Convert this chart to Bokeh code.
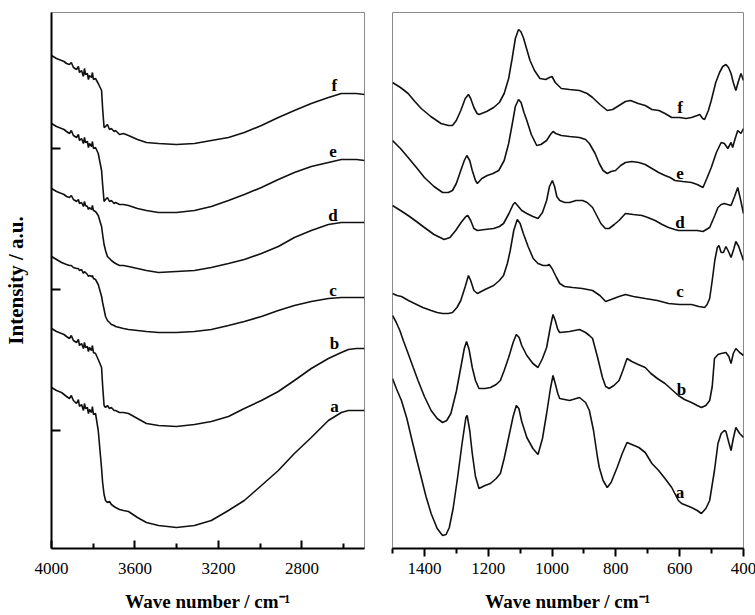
from bokeh.plotting import figure
from bokeh.models import Range1d, FixedTicker, ColumnDataSource, CustomLabelingPolicy
from bokeh.layouts import row
from bokeh.embed import file_html
from bokeh.resources import INLINE
from bokeh.core.properties import value

SERIF = "Liberation Serif"

# ---------------- left panel (4000-2500 cm-1) ----------------
left_wn = [4000, 3976, 3952, 3940, 3928, 3914, 3905, 3895, 3880, 3871, 3866, 3856, 3847,
           3842, 3837, 3828, 3823, 3818, 3808, 3804, 3799, 3789, 3776, 3760, 3755, 3748,
           3741, 3732, 3722, 3713, 3700, 3693, 3674, 3655, 3631, 3588, 3545, 3487, 3401,
           3315, 3234, 3152, 3076, 2994, 2913, 2836, 2755, 2673, 2611, 2577, 2539, 2500]

left_f = [493, 490, 488, 487, 485, 484, 486, 481, 479, 482, 476, 478, 472,
          480, 474, 475, 469, 473, 471, 476, 469, 470, 465, 458, 440, 421,
          422, 424, 419, 420, 417, 418, 414, 415, 413, 409, 406, 405, 404,
          405, 408, 411, 416, 423, 431, 438, 445, 451, 455, 455, 455, 454]
left_e = [425, 422, 420, 419, 417, 415, 418, 413, 411, 414, 408, 410, 405,
          411, 406, 407, 401, 405, 402, 407, 400, 401, 395, 378, 364, 347,
          349, 351, 347, 348, 345, 346, 344, 344, 343, 340, 338, 336, 336,
          338, 342, 348, 354, 361, 369, 376, 382, 386, 389, 389, 389, 388]
left_d = [360, 357, 355, 354, 352, 351, 353, 349, 347, 349, 345, 346, 342,
          347, 343, 342, 339, 341, 339, 343, 338, 337, 333, 322, 314, 304,
          298, 292, 290, 288, 286, 285, 283, 283, 282, 280, 278, 276, 277,
          278, 281, 285, 289, 295, 302, 311, 318, 324, 326, 326, 326, 326]
left_c = [292, 289, 286, 285, 284, 283, 283, 281, 280, 280, 278, 279, 275,
          277, 276, 274, 272, 273, 272, 273, 270, 269, 264, 252, 246, 239,
          232, 228, 226, 224, 223, 222, 221, 220, 219, 218, 217, 216, 216,
          217, 219, 223, 227, 232, 238, 243, 247, 250, 251, 251, 251, 251]
left_b = [220, 217, 215, 214, 212, 210, 213, 208, 206, 209, 203, 205, 200,
          206, 201, 202, 197, 201, 198, 203, 196, 195, 189, 181, 163, 143,
          141, 143, 140, 141, 138, 138, 136, 136, 135, 130, 125, 123, 122,
          124, 127, 132, 140, 148, 157, 168, 180, 190, 196, 199, 200, 200]
left_a = [161, 158, 156, 154, 152, 150, 153, 148, 145, 149, 142, 144, 138,
          145, 140, 141, 135, 139, 136, 142, 134, 135, 118, 80, 66, 54,
          48, 46, 47, 44, 42, 41, 39, 38, 37, 31, 26, 23, 21,
          23, 28, 38, 48, 63, 78, 95, 111, 128, 136, 138, 138, 138]

left_lbl_text = ["a", "b", "c", "d", "e", "f"]
left_lbl_wn = [2644, 2644, 2651, 2651, 2651, 2644]
left_lbl_y = [142, 205, 258, 333, 397, 463]

left_major = [4000, 3600, 3200, 2800]
left_minor = [3800, 3400, 3000, 2600]
left_yticks = [118, 259, 400]

# ---------------- right panel (1500-400 cm-1) ----------------
right_f_wn = [1500, 1475, 1451, 1430, 1410, 1380, 1348, 1325, 1312, 1300, 1286, 1272, 1262, 1255,
              1245, 1235, 1229, 1205, 1183, 1165, 1150, 1136, 1125, 1115, 1105, 1098, 1090, 1080,
              1069, 1055, 1038, 1020, 1008, 1000, 990, 971, 945, 914, 890, 873, 850, 827, 810,
              790, 770, 754, 730, 708, 687, 665, 646, 625, 600, 580, 563, 545, 537, 528, 522,
              510, 501, 487, 475, 465, 455, 447, 439, 432, 424, 416, 408, 400]
right_f = [466, 461, 455, 447, 440, 432, 425, 423, 423, 428, 438, 450, 454, 450,
           441, 435, 434, 437, 441, 446, 455, 470, 490, 510, 519, 517, 511, 500,
           488, 478, 470, 469, 471, 472, 466, 460, 459, 458, 455, 451, 444, 438, 439,
           443, 447, 448, 445, 443, 439, 438, 435, 431, 431, 430, 431, 433, 434, 430, 429,
           438, 448, 466, 476, 482, 484, 481, 475, 466, 458, 467, 475, 468]

right_e_wn = [1500, 1475, 1451, 1425, 1400, 1370, 1343, 1325, 1312, 1300, 1286, 1275, 1267, 1258,
              1250, 1240, 1234, 1220, 1203, 1185, 1167, 1150, 1136, 1125, 1115, 1105, 1097, 1088,
              1079, 1065, 1048, 1035, 1017, 1005, 997, 988, 971, 945, 914, 895, 883, 865, 852,
              840, 827, 815, 801, 785, 770, 750, 728, 708, 687, 666, 646, 630, 615, 590, 563,
              545, 527, 515, 501, 485, 470, 460, 449, 439, 434, 426, 418, 408, 400]
right_e = [408, 400, 391, 381, 371, 362, 356, 356, 358, 365, 378, 388, 393, 388,
           378, 368, 365, 370, 373, 375, 378, 388, 405, 424, 442, 449, 446, 436,
           428, 414, 403, 404, 408, 414, 417, 415, 413, 412, 411, 409, 405, 395, 385,
           378, 375, 377, 378, 383, 386, 387, 386, 384, 380, 376, 373, 371, 368, 367, 366,
           364, 361, 370, 381, 396, 406, 405, 400, 406, 401, 410, 418, 415, 420]

right_d_wn = [1500, 1475, 1451, 1425, 1400, 1370, 1338, 1320, 1302, 1285, 1270, 1264, 1255, 1245,
              1234, 1210, 1183, 1165, 1152, 1135, 1122, 1116, 1108, 1095, 1079, 1060, 1044, 1030,
              1017, 1008, 999, 992, 985, 976, 960, 945, 925, 904, 890, 873, 860, 847, 833,
              821, 805, 790, 770, 745, 718, 700, 677, 655, 635, 615, 604, 570, 545, 527,
              506, 490, 480, 470, 460, 450, 439, 428, 418, 410, 400]
right_d = [343, 338, 333, 327, 321, 314, 309, 311, 318, 326, 332, 333, 328, 320,
           318, 319, 320, 322, 325, 335, 344, 346, 343, 338, 335, 332, 330, 336,
           348, 362, 368, 362, 352, 348, 346, 346, 348, 348, 346, 341, 333, 325, 320,
           320, 324, 328, 335, 334, 333, 331, 328, 324, 321, 319, 318, 318, 318, 317,
           321, 333, 341, 344, 345, 344, 343, 352, 361, 350, 335]

right_c_wn = [1500, 1486, 1472, 1450, 1431, 1405, 1379, 1360, 1343, 1325, 1312, 1298, 1286, 1272,
              1262, 1255, 1245, 1234, 1210, 1183, 1165, 1152, 1140, 1131, 1120, 1109, 1100, 1090,
              1075, 1059, 1044, 1028, 1015, 1009, 1000, 986, 976, 961, 935, 905, 873, 850, 832,
              815, 790, 770, 745, 708, 670, 635, 600, 563, 540, 522, 514, 506, 498, 490,
              482, 477, 470, 463, 455, 447, 439, 430, 424, 415, 400]
right_c = [255, 253, 252, 248, 245, 241, 238, 236, 235, 235, 236, 241, 248, 262,
           273, 268, 258, 255, 259, 263, 268, 273, 285, 298, 318, 329, 325, 315,
           302, 290, 285, 283, 283, 284, 280, 271, 265, 262, 261, 260, 258, 253, 247,
           249, 252, 254, 252, 250, 248, 245, 244, 244, 242, 241, 244, 250, 268, 288,
           301, 303, 296, 296, 302, 297, 291, 300, 307, 302, 288]

right_b_wn = [1500, 1488, 1477, 1465, 1451, 1435, 1420, 1400, 1379, 1360, 1343, 1330, 1317, 1300,
              1286, 1275, 1268, 1260, 1250, 1240, 1229, 1210, 1193, 1175, 1162, 1150, 1136, 1122,
              1112, 1103, 1095, 1079, 1060, 1044, 1030, 1017, 1005, 997, 990, 982, 976, 945,
              914, 895, 883, 873, 858, 842, 832, 821, 806, 790, 778, 765, 750, 730, 708,
              690, 670, 646, 625, 604, 585, 563, 545, 532, 518, 506, 498, 491, 480, 470,
              455, 446, 439, 432, 424, 412, 400]
right_b = [233, 226, 218, 207, 195, 181, 168, 152, 138, 130, 126, 128, 135, 157,
           181, 200, 207, 199, 181, 168, 160, 160, 161, 164, 168, 178, 191, 206,
           214, 211, 203, 193, 185, 181, 190, 201, 222, 234, 228, 219, 216, 217,
           219, 216, 213, 210, 192, 171, 162, 160, 163, 168, 178, 190, 187, 184, 181,
           175, 170, 165, 159, 153, 149, 146, 143, 141, 143, 148, 162, 190, 194, 195,
           196, 192, 185, 195, 200, 196, 193]

right_a_wn = [1500, 1488, 1472, 1455, 1441, 1425, 1410, 1395, 1379, 1360, 1343, 1332, 1322, 1310,
              1296, 1282, 1270, 1266, 1258, 1250, 1240, 1229, 1210, 1193, 1175, 1162, 1150, 1136,
              1122, 1112, 1104, 1095, 1079, 1060, 1044, 1030, 1017, 1005, 997, 990, 982, 976,
              945, 914, 895, 883, 870, 858, 852, 840, 827, 815, 796, 780, 765, 750, 728,
              708, 687, 666, 646, 625, 604, 594, 563, 545, 532, 518, 506, 491, 480, 470,
              460, 455, 446, 439, 432, 424, 412, 400]
right_a = [170, 160, 148, 130, 111, 90, 71, 52, 35, 20, 13, 14, 21, 40,
           71, 105, 131, 133, 118, 95, 72, 60, 63, 65, 70, 75, 90, 111,
           132, 143, 140, 127, 111, 100, 94, 110, 135, 160, 173, 165, 155, 150,
           148, 151, 146, 138, 118, 92, 81, 68, 61, 66, 81, 95, 106, 104, 101,
           96, 85, 78, 70, 61, 48, 45, 41, 38, 35, 40, 48, 78, 105, 115,
           118, 117, 106, 98, 110, 121, 115, 111]

right_lbl_text = ["a", "b", "c", "d", "e", "f"]
right_lbl_wn = [599, 594, 599, 599, 599, 599]
right_lbl_y = [56, 159, 257, 326, 375, 441]

right_major = [1400, 1200, 1000, 800, 600, 400]
right_minor = [1500, 1300, 1100, 900, 700, 500]

X_TITLE = "Wave number / cm\u207b\u00b9"
LINE_COLOR = "#111111"


def style_common(p):
    p.xgrid.grid_line_color = None
    p.ygrid.grid_line_color = None
    p.outline_line_color = "#8a8a8a"
    p.outline_line_width = 1
    p.background_fill_color = "white"
    p.border_fill_color = "white"
    ax = p.xaxis[0]
    ax.axis_line_width = 2
    ax.axis_line_color = "black"
    ax.major_tick_line_width = 2
    ax.minor_tick_line_width = 2
    ax.major_tick_line_color = "black"
    ax.minor_tick_line_color = "black"
    ax.major_label_text_font = SERIF
    ax.major_label_text_font_size = "17px"
    ax.major_label_text_color = "black"
    ax.axis_label = X_TITLE
    ax.axis_label_text_font = SERIF
    ax.axis_label_text_font_style = "bold"
    ax.axis_label_text_font_size = "19px"
    ax.axis_label_text_color = "black"
    ax.axis_label_standoff = 14


p1 = figure(frame_width=313, frame_height=536,
            x_range=Range1d(4000, 2500), y_range=Range1d(0, 536),
            output_backend="svg", toolbar_location=None,
            min_border_left=50, min_border_right=14, min_border_top=12, min_border_bottom=67)
style_common(p1)
xa = p1.xaxis[0]
xa.ticker = FixedTicker(ticks=left_major, minor_ticks=left_minor)
xa.major_tick_in = 8
xa.major_tick_out = 0
xa.minor_tick_in = 5
xa.minor_tick_out = 0
xa.major_label_standoff = 14

ya = p1.yaxis[0]
ya.ticker = FixedTicker(ticks=left_yticks, minor_ticks=[])
ya.axis_line_width = 2
ya.axis_line_color = "black"
ya.major_tick_in = 9
ya.major_tick_out = 0
ya.major_tick_line_width = 2
ya.minor_tick_in = 0
ya.minor_tick_out = 0
ya.major_label_text_font_size = "1px"
ya.major_label_policy = CustomLabelingPolicy(code="return new Set()")
ya.major_label_standoff = 0
ya.axis_label = "Intensity / a.u."
ya.axis_label_text_font = SERIF
ya.axis_label_text_font_style = "bold"
ya.axis_label_text_font_size = "21px"
ya.axis_label_text_color = "black"
ya.axis_label_standoff = 19

for ys in [left_a, left_b, left_c, left_d, left_e, left_f]:
    p1.line(left_wn, ys, line_color=LINE_COLOR, line_width=1.6)

src1 = ColumnDataSource(dict(x=left_lbl_wn, y=left_lbl_y, t=left_lbl_text))
p1.text(x="x", y="y", text="t", source=src1, text_font=value(SERIF),
        text_font_style="bold", text_font_size="17px", text_align="center",
        text_baseline="middle", text_color="black")

p2 = figure(frame_width=351, frame_height=536,
            x_range=Range1d(1500, 400), y_range=Range1d(0, 536),
            output_backend="svg", toolbar_location=None, y_axis_location=None,
            min_border_left=14, min_border_right=13, min_border_top=12, min_border_bottom=67)
style_common(p2)
xb = p2.xaxis[0]
xb.ticker = FixedTicker(ticks=right_major, minor_ticks=right_minor)
xb.major_tick_in = 0
xb.major_tick_out = 8
xb.minor_tick_in = 0
xb.minor_tick_out = 5
xb.major_label_standoff = 6

for wn, ys in [(right_a_wn, right_a), (right_b_wn, right_b), (right_c_wn, right_c),
               (right_d_wn, right_d), (right_e_wn, right_e), (right_f_wn, right_f)]:
    p2.line(wn, ys, line_color=LINE_COLOR, line_width=1.6)

src2 = ColumnDataSource(dict(x=right_lbl_wn, y=right_lbl_y, t=right_lbl_text))
p2.text(x="x", y="y", text="t", source=src2, text_font=value(SERIF),
        text_font_style="bold", text_font_size="17px", text_align="center",
        text_baseline="middle", text_color="black")

layout = row(p1, p2)
open("out.html", "w").write(file_html(layout, INLINE))
